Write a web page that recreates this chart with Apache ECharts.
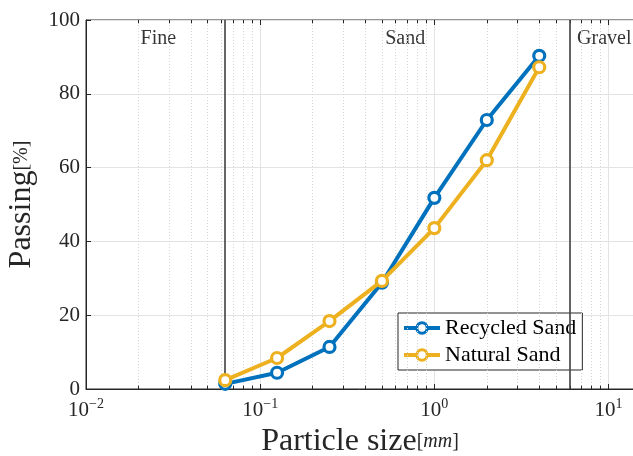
<!DOCTYPE html>
<html lang="en">
<head>
    <meta charset="UTF-8">
    <title>Particle size distribution</title>
    <script type="text/javascript" src="https://cdn.jsdelivr.net/npm/echarts@6/dist/echarts.min.js"></script>
    <style type="text/css">
        html, body { margin: 0; padding: 0; background: #fff; }
        #chart { width: 633px; height: 456px; }
    </style>
</head>
<body>
<div id="chart"></div>
<script type="text/javascript">
    // sieve sizes [mm]
    var sizes = [0.063, 0.125, 0.25, 0.5, 1, 2, 4];
    var recycled = [1.4, 4.4, 11.4, 28.8, 51.8, 72.9, 90.3];
    var natural = [2.4, 8.4, 18.4, 29.3, 43.6, 62, 87.2];

    // class boundaries and labels
    var boundaries = [0.063, 6];
    var zoneNames = ['Fine', 'Sand', 'Gravel'];
    var zoneX = [0.026, 0.68, 6.6];
    var zoneY = [95, 95, 95];
    var zoneAlign = ['center', 'center', 'left'];

    var minorX = [0.02, 0.03, 0.04, 0.05, 0.06, 0.07, 0.08, 0.09,
                  0.2, 0.3, 0.4, 0.5, 0.6, 0.7, 0.8, 0.9,
                  2, 3, 4, 5, 6, 7, 8, 9];

    var font = 'Liberation Serif';
    var blue = '#0072BD', orange = '#EDB120';

    function pairs(xs, ys) {
        var out = [];
        for (var i = 0; i < xs.length; i++) out.push([xs[i], ys[i]]);
        return out;
    }

    function vlines(xs, y0, y1) {
        var out = [];
        for (var i = 0; i < xs.length; i++) {
            out.push([{coord: [xs[i], y0]}, {coord: [xs[i], y1]}]);
        }
        return out;
    }

    var minorLines = vlines(minorX, 0, 100);
    var minorTicks = vlines(minorX, 0, 0.9).concat(vlines(minorX, 100, 99.1));

    var zones = [];
    for (var k = 0; k < zoneNames.length; k++) {
        zones.push({value: [zoneX[k], zoneY[k]], name: zoneNames[k],
                    label: {align: zoneAlign[k]}});
    }

    var chart = echarts.init(document.getElementById('chart'));

    function powLabel(v) {
        var e = Math.round(Math.log10(v));
        if (Math.abs(Math.pow(10, e) - v) > v * 1e-6) return '';
        return '{b|10}{s|' + (e < 0 ? '\u2212' + (-e) : e) + '}';
    }

    var option = {
        animation: false,
        textStyle: {fontFamily: font},
        grid: {left: 86, top: 20, right: -1, bottom: 67, show: true,
               outerBoundsMode: 'none', containLabel: false,
               borderColor: '#262626', borderWidth: 1},
        legend: {
            orient: 'vertical', left: 398, top: 313,
            backgroundColor: '#fff', borderColor: '#262626', borderWidth: 1,
            padding: [4, 6, 4, 4], itemGap: 5, itemWidth: 36, itemHeight: 13,
            lineStyle: {width: 4},
            itemStyle: {borderWidth: 3},
            textStyle: {fontFamily: font, fontSize: 22, color: '#000'},
            data: ['Recycled Sand', 'Natural Sand']
        },
        xAxis: [{
            type: 'log', logBase: 10, min: 0.01, max: 14,
            name: '{a|Particle size}{b|[}{c|mm}{b|]}',
            nameLocation: 'middle', nameGap: 29,
            nameTextStyle: {rich: {
                a: {fontFamily: font, fontSize: 32, color: '#262626'},
                b: {fontFamily: font, fontSize: 20, color: '#262626'},
                c: {fontFamily: font, fontSize: 20, fontStyle: 'italic', color: '#262626'}
            }},
            axisLine: {lineStyle: {color: '#262626'}},
            axisTick: {inside: true, length: 5, lineStyle: {color: '#262626'}},
            axisLabel: {
                margin: 8, formatter: powLabel, color: '#262626',
                rich: {
                    b: {fontFamily: font, fontSize: 21, color: '#262626', verticalAlign: 'bottom', lineHeight: 24},
                    s: {fontFamily: font, fontSize: 14, color: '#262626', verticalAlign: 'top', lineHeight: 14}
                }
            },
            splitLine: {show: true, lineStyle: {color: '#e3e3e3', width: 1}}
        }, {
            type: 'log', logBase: 10, min: 0.01, max: 14, position: 'top',
            axisLine: {show: false},
            axisTick: {inside: true, length: 5, lineStyle: {color: '#262626'}},
            axisLabel: {show: false}, splitLine: {show: false}
        }],
        yAxis: {
            type: 'value', min: 0, max: 100, interval: 20,
            name: '{a|Passing}{b|[%]}',
            nameLocation: 'middle', nameGap: 48, nameRotate: 90,
            nameTextStyle: {rich: {
                a: {fontFamily: font, fontSize: 32, color: '#262626'},
                b: {fontFamily: font, fontSize: 20, color: '#262626'}
            }},
            axisLine: {show: true, lineStyle: {color: '#262626'}},
            axisTick: {inside: true, length: 5, lineStyle: {color: '#262626'}},
            axisLabel: {fontFamily: font, fontSize: 21, color: '#262626', margin: 6},
            splitLine: {show: true, lineStyle: {color: '#e3e3e3', width: 1}}
        },
        series: [{
            type: 'line', name: 'minor', data: [], silent: true,
            markLine: {
                silent: true, symbol: 'none', label: {show: false},
                lineStyle: {color: '#d6d6d6', width: 1, type: [1, 2]},
                data: minorLines
            }
        }, {
            type: 'line', name: 'minorTicks', data: [], silent: true,
            markLine: {
                silent: true, symbol: 'none', label: {show: false},
                lineStyle: {color: '#262626', width: 1, type: 'solid'},
                data: minorTicks
            }
        }, {
            type: 'line', name: 'zones', data: [], silent: true,
            markLine: {
                silent: true, symbol: 'none', label: {show: false},
                lineStyle: {color: '#404040', width: 1.6, type: 'solid'},
                data: vlines(boundaries, 0, 100)
            }
        }, {
            type: 'scatter', name: 'zoneText', data: zones, symbolSize: 0, silent: true,
            label: {
                show: true, position: 'inside', formatter: '{b}',
                fontFamily: font, fontSize: 20, color: '#000'
            }
        }, {
            type: 'line', name: 'Recycled Sand', data: pairs(sizes, recycled),
            symbol: 'circle', symbolSize: 11, z: 5,
            lineStyle: {color: blue, width: 4},
            itemStyle: {color: '#fff', borderColor: blue, borderWidth: 3.2}
        }, {
            type: 'line', name: 'Natural Sand', data: pairs(sizes, natural),
            symbol: 'circle', symbolSize: 11, z: 6,
            lineStyle: {color: orange, width: 4},
            itemStyle: {color: '#fff', borderColor: orange, borderWidth: 3.2}
        }]
    };
    chart.setOption(option);
</script>
</body>
</html>
